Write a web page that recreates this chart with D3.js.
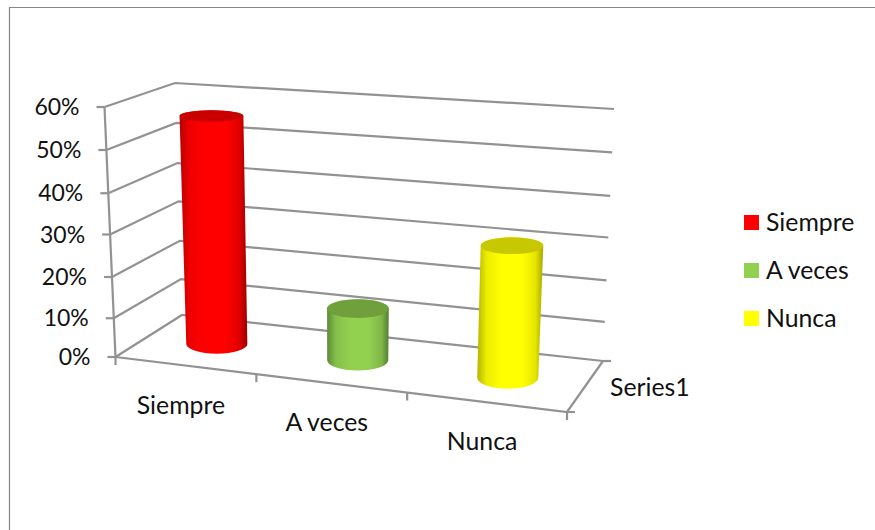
<!DOCTYPE html>
<html><head><meta charset="utf-8">
<script src="https://cdn.jsdelivr.net/npm/d3@7"></script>
<style>html,body{margin:0;padding:0;background:#fff;overflow:hidden}svg{display:block}text{font-family:Lato,sans-serif;fill:#111}</style>
</head><body>
<svg id="c" width="875" height="530"></svg>
<script>
const categories = ["Siempre","A veces","Nunca"];
const seriesName = "Series1";
const values = [0.56,0.13,0.31];
const tickValues = [0,0.1,0.2,0.3,0.4,0.5,0.6];
const tickLabels = ["0%","10%","20%","30%","40%","50%","60%"];
const base = ["#ff0000","#92d050","#ffff00"];
const topC = ["#c80000","#6fa03c","#c8c800"];
const edgeL = ["#b80000","#5f8a38","#b4b400"];
const edgeR = ["#9c0000","#557d32","#a8a800"];

const svg = d3.select("#c");
const grid = "#929292";
// chart box corners (floor and 60% plane)
const F = {fl:[115.5,357],fr:[567,412],br:[603,361],bl:[182,315]};
const T = {fl:[104.5,107],fr:[580,135],br:[614,109],bl:[175,83]};
const lerp=(a,b,t)=>[a[0]+(b[0]-a[0])*t,a[1]+(b[1]-a[1])*t];
const uScale = d3.scaleLinear().domain([0,1,2,3]).range([0,0.312,0.646,1]);
const vScale = d3.scaleLinear().domain(tickValues).range([0,.155,.32,.49,.655,.828,1]);
function P(u,d,v){
  const f=lerp(lerp(F.fl,F.fr,u),lerp(F.bl,F.br,u),d);
  const t=lerp(lerp(T.fl,T.fr,u),lerp(T.bl,T.br,u),d);
  return lerp(f,t,vScale(v));
}
const line=d3.line();
const defs=svg.append("defs");
categories.forEach((c,i)=>{
  const g=defs.append("linearGradient").attr("id","g"+i);
  [[0,edgeL[i]],[.14,d3.interpolateRgb(edgeL[i],base[i])(.75)],[.36,base[i]],[.68,base[i]],[.88,d3.interpolateRgb(edgeR[i],base[i])(.7)],[1,edgeR[i]]]
   .forEach(s=>g.append("stop").attr("offset",s[0]).attr("stop-color",s[1]));
});
// frame
svg.append("path").attr("d","M9.5,530V7.5H875").attr("fill","none").attr("stroke","#868686").attr("stroke-width",1.2);
const gl=svg.append("g").attr("fill","none").attr("stroke",grid).attr("stroke-width",2.2);
// gridlines: side wall then back wall
gl.selectAll("path.g").data(tickValues).join("path").attr("class","g")
  .attr("d",v=>line([P(0,0,v),P(0,1,v),P(1,1,v)]));
// value axis
gl.append("path").attr("d",line([P(0,0,0),P(0,0,0.6)]));
gl.selectAll("path.t").data(tickValues).join("path").attr("class","t")
  .attr("d",v=>{const p=P(0,0,v);return line([p,[p[0]-8,p[1]]]);});
// floor front and side edges
gl.append("path").attr("d",line([P(0,0,0),P(1,0,0),P(1,1,0)]));
gl.selectAll("path.c").data(d3.range(4)).join("path").attr("class","c")
  .attr("d",k=>{const p=P(uScale(k),0,0);return line([p,[p[0],p[1]+8]]);});
gl.append("path").attr("d",()=>{const p=P(1,1,0);return line([p,[p[0]+8,p[1]]]);});
gl.append("path").attr("d",()=>{const p=P(1,0,0);return line([p,[p[0]+8,p[1]]]);});
// bars
const du=0.07, dr=0.225;
function ell(u,v){
  const c=P(u,.5,v), l=P(u-du,.5,v), r=P(u+du,.5,v);
  const a=P(u,.5-dr,v), b=P(u,.5+dr,v);
  return {cx:c[0],cy:c[1],rx:(r[0]-l[0])/2,ry:Math.abs(a[1]-b[1])/2};
}
categories.forEach((c,i)=>{
  const uc=(uScale(i)+uScale(i+1))/2;
  const t=ell(uc,values[i]), b=ell(uc,0);
  const d=`M${t.cx-t.rx},${t.cy}L${b.cx-b.rx},${b.cy}A${b.rx},${b.ry} 0 0 0 ${b.cx+b.rx},${b.cy}L${t.cx+t.rx},${t.cy}A${t.rx},${t.ry} 0 0 0 ${t.cx-t.rx},${t.cy}Z`;
  svg.append("path").attr("d",d).attr("fill",`url(#g${i})`);
  svg.append("ellipse").attr("cx",t.cx).attr("cy",t.cy).attr("rx",t.rx).attr("ry",t.ry).attr("fill",topC[i]);
});
// text
const fs=23, fsWord=24.8;
svg.selectAll("text.y").data(tickValues).join("text").attr("class","y")
  .attr("x",v=>P(0,0,v)[0]-25).attr("y",v=>P(0,0,v)[1]+8)
  .attr("text-anchor","end").attr("font-size",fs).text((v,i)=>tickLabels[i]);
svg.selectAll("text.x").data(categories).join("text").attr("class","x")
  .attr("x",(c,i)=>P((uScale(i)+uScale(i+1))/2,0,0)[0]-5)
  .attr("y",(c,i)=>P((uScale(i)+uScale(i+1))/2,0,0)[1]+48)
  .attr("text-anchor","middle").attr("font-size",fsWord).text(c=>c);
svg.append("text").attr("x",610).attr("y",396).attr("font-size",fsWord).text(seriesName);
const legendY=d3.scalePoint().domain(categories).range([222.5,318.5]);
const lg=svg.selectAll("g.l").data(categories).join("g").attr("class","l").attr("transform",c=>`translate(744,${legendY(c)})`);
lg.append("rect").attr("y",-7.5).attr("width",15).attr("height",15).attr("fill",(c,i)=>base[i]);
lg.append("text").attr("x",22).attr("y",8).attr("font-size",fsWord).text(c=>c);
</script>
</body></html>
